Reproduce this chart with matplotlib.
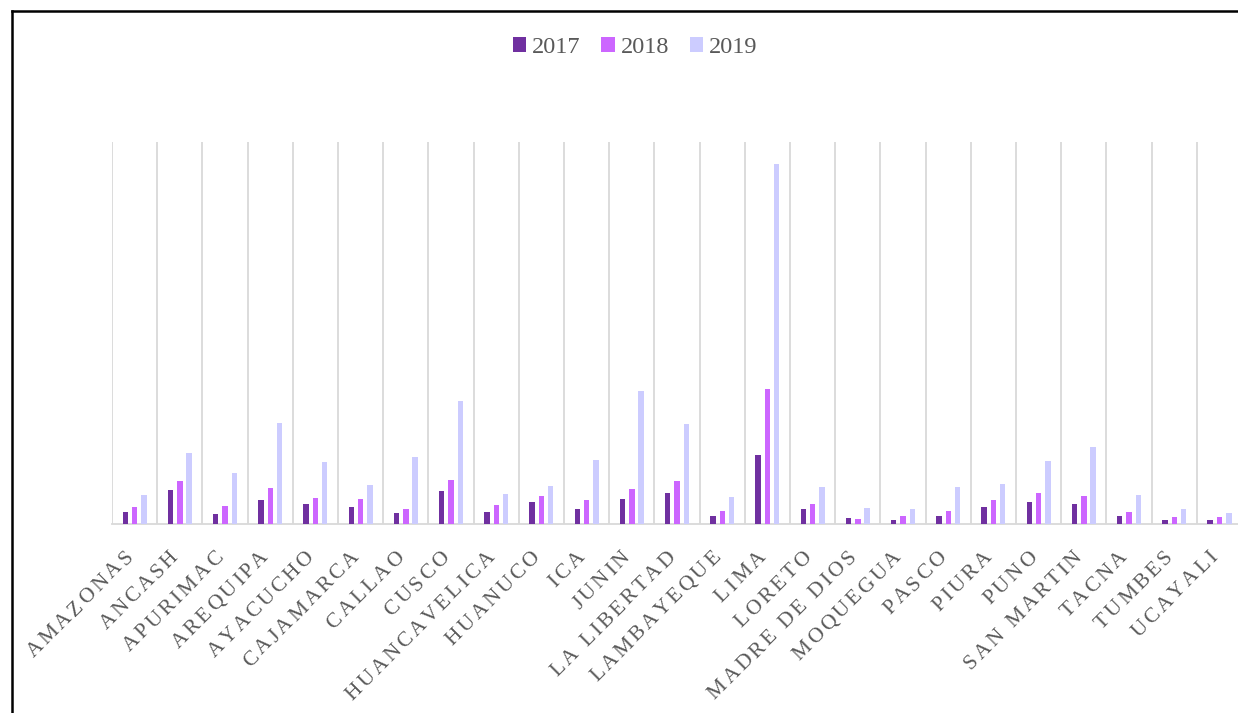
import matplotlib
matplotlib.use("Agg")
import matplotlib.pyplot as plt
import matplotlib.transforms as mtransforms
from matplotlib.font_manager import FontProperties, findfont, get_font
from matplotlib.lines import Line2D
from matplotlib.patches import Patch
import numpy as np

regiones = ["AMAZONAS", "ANCASH", "APURIMAC", "AREQUIPA", "AYACUCHO", "CAJAMARCA",
            "CALLAO", "CUSCO", "HUANCAVELICA", "HUANUCO", "ICA", "JUNIN",
            "LA LIBERTAD", "LAMBAYEQUE", "LIMA", "LORETO", "MADRE DE DIOS",
            "MOQUEGUA", "PASCO", "PIURA", "PUNO", "SAN MARTIN", "TACNA",
            "TUMBES", "UCAYALI"]

v2017 = [12, 34, 10, 23.7, 20, 17.3, 10.7, 33.3, 12.3, 22.3, 15, 25.3,
         30.7, 8.3, 69.3, 14.7, 6, 4.3, 8.3, 17, 22.3, 20.3, 7.7, 4.3, 4.3]
v2018 = [17, 43.3, 17.7, 36.3, 26, 25.3, 15.3, 44.3, 19.3, 28.3, 23.7, 35.3,
         43.3, 13.3, 135, 20.3, 5.3, 8, 13, 24.3, 30.7, 28.3, 12, 7.3, 6.7]
v2019 = [28.7, 71, 51, 101, 61.7, 39.3, 66.7, 123.3, 30.3, 38.3, 64.3, 133.3,
         100.3, 27.3, 360.3, 37.3, 16, 15.3, 37, 40.3, 63.3, 77.3, 29.3, 15.3, 11.3]

series = [("2017", v2017, "#7030a0"),
          ("2018", v2018, "#cc66ff"),
          ("2019", v2019, "#ccccff")]

serif = ["Liberation Serif", "DejaVu Serif"]
gris = "#595959"
linea = "#d9d9d9"

fig = plt.figure(figsize=(12.38, 7.13), dpi=100)
ax = fig.add_axes([0.0905, 0.2651, 0.9128, 0.5358])

x = np.arange(len(regiones))
ancho = 0.12
paso = 0.206
for k, (nombre, vals, color) in enumerate(series):
    ax.bar(x + (k - 1) * paso, vals, width=ancho, color=color, zorder=3)

# separadores verticales entre categorias
ax.vlines(np.arange(len(regiones) + 1) - 0.5, 0, 382, color=linea, lw=1.3, zorder=1)

ax.set_xlim(-0.5, len(regiones) - 0.5)
ax.set_ylim(0, 382)
for s in ["top", "right", "left"]:
    ax.spines[s].set_visible(False)
ax.spines["bottom"].set_color(linea)
ax.spines["bottom"].set_linewidth(1.3)
ax.set_yticks([])
ax.set_xticks([])

# etiquetas inclinadas con espaciado entre letras
tam = 15.5
prop = FontProperties(family="Liberation Serif", size=tam)
fuente = get_font(findfont(prop))
fuente.set_size(tam, 72)
espacio = 2.0
c45 = np.cos(np.pi / 4)
base = ax.get_xaxis_transform()
for i, etiqueta in enumerate(regiones):
    avances = [fuente.load_char(ord(c)).linearHoriAdvance / 65536 for c in etiqueta]
    total = sum(avances) + (len(etiqueta) - 1) * espacio
    pos = 0.0
    for c, a in zip(etiqueta, avances):
        d = total - pos
        off = mtransforms.ScaledTranslation((-0.7 - d * c45) / 72, (-d * c45) / 72,
                                            fig.dpi_scale_trans)
        ax.text(i, -0.089, c, transform=base + off, rotation=45,
                rotation_mode="anchor", ha="left", va="baseline",
                fontproperties=prop, color=gris, clip_on=False)
        pos += a + espacio

handles = [Patch(facecolor=col, label=nom) for nom, _, col in series]
fig.legend(handles=handles, loc="center", bbox_to_anchor=(0.513, 0.933), ncol=3,
           frameon=False, prop=FontProperties(family=serif, size=17.5),
           labelcolor=gris, handlelength=0.55, handleheight=0.55,
           handletextpad=0.25, columnspacing=0.85)

# marco del grafico
fig.add_artist(Line2D([0.0093, 0.0093], [0.9839, 0.0], color="black", lw=1.8,
                      transform=fig.transFigure))
fig.add_artist(Line2D([0.0093, 1.0], [0.9839, 0.9839], color="black", lw=1.8,
                      transform=fig.transFigure))

fig.savefig("out.png", dpi=100)
